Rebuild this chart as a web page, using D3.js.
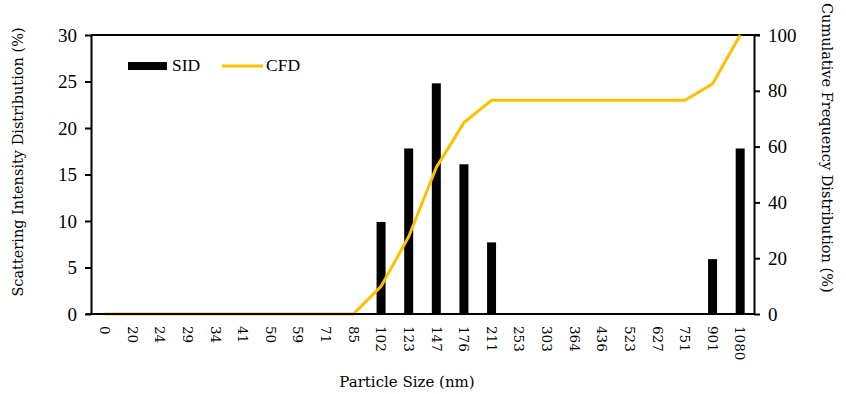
<!DOCTYPE html>
<html>
<head>
    <script src="https://d3js.org/d3.v7.min.js"></script>
    <style>
        body { margin: 0; background: #fff; }
        svg { font-family: "Liberation Serif", "DejaVu Serif", serif; }
        .domain { stroke: #000; stroke-width: 2; }
        .tick line { stroke: #000; stroke-width: 2; }
    </style>
</head>
<body>
<script>
    // particle size categories (nm)
    var sizes = ["0", "20", "24", "29", "34", "41", "50", "59", "71", "85", "102", "123",
        "147", "176", "211", "253", "303", "364", "436", "523", "627", "751", "901", "1080"];
    // scattering intensity distribution (%)
    var sid = [0, 0, 0, 0, 0, 0, 0, 0, 0, 0, 9.9, 17.8, 24.8, 16.1, 7.7, 0, 0, 0, 0, 0, 0, 0, 5.9, 17.8];
    // cumulative frequency distribution (%)
    var cfd = [0, 0, 0, 0, 0, 0, 0, 0, 0, 0, 9.9, 27.7, 52.5, 68.6, 76.6, 76.6, 76.6, 76.6, 76.6, 76.6, 76.6, 76.6, 82.5, 100];
    var leftTicks = [0, 5, 10, 15, 20, 25, 30];
    var rightTicks = [0, 20, 40, 60, 80, 100];

    var margin = { top: 35, right: 92, bottom: 80, left: 91 },
        W = 846, H = 394,
        width = W - margin.left - margin.right,
        height = H - margin.top - margin.bottom;

    var svg = d3.select("body").append("svg")
        .attr("width", W)
        .attr("height", H);

    var g = svg.append("g")
        .attr("transform", "translate(" + margin.left + "," + margin.top + ")");

    var x = d3.scaleBand().domain(sizes).range([0, width]);
    var yL = d3.scaleLinear().domain([0, 30]).range([height, 0]);
    var yR = d3.scaleLinear().domain([0, 100]).range([height, 0]);

    // top frame line
    g.append("line")
        .attr("x1", 0).attr("x2", width + 6)
        .attr("y1", 0).attr("y2", 0)
        .attr("stroke", "#000").attr("stroke-width", 2);

    // bars
    g.selectAll(".bar")
        .data(sizes)
        .enter()
        .append("rect")
        .attr("class", "bar")
        .attr("x", function (d) { return x(d) + x.bandwidth() / 2 - 4.5; })
        .attr("width", 9)
        .attr("y", function (d, i) { return yL(sid[i]); })
        .attr("height", function (d, i) { return height - yL(sid[i]); })
        .attr("fill", "#000");

    // line
    var line = d3.line()
        .x(function (d, i) { return x(sizes[i]) + x.bandwidth() / 2; })
        .y(function (d) { return yR(d); });

    g.append("path")
        .datum(cfd)
        .attr("d", line)
        .attr("fill", "none")
        .attr("stroke", "#FFC000")
        .attr("stroke-width", 3);

    // left axis
    var aL = g.append("g")
        .attr("font-family", null)
        .call(d3.axisLeft(yL).tickValues(leftTicks).tickSize(6).tickSizeOuter(0).tickPadding(8));
    aL.attr("font-family", "Liberation Serif, serif");
    aL.selectAll("text").style("font-size", "19px").attr("fill", "#000");

    // right axis
    var aR = g.append("g")
        .attr("transform", "translate(" + width + ",0)")
        .call(d3.axisRight(yR).tickValues(rightTicks).tickSize(6).tickSizeOuter(0).tickPadding(8));
    aR.attr("font-family", "Liberation Serif, serif");
    aR.selectAll("text").style("font-size", "19px").attr("fill", "#000");

    // bottom axis
    var aB = g.append("g")
        .attr("transform", "translate(0," + height + ")")
        .call(d3.axisBottom(x).tickSize(0).tickSizeOuter(0));
    aB.attr("font-family", "DejaVu Serif, serif");
    aB.select(".domain").attr("d", "M-5,0H" + width);
    aB.selectAll("text")
        .style("font-size", "13.5px")
        .attr("fill", "#000")
        .attr("text-anchor", "start")
        .attr("transform", "translate(0,12) rotate(90)")
        .attr("x", 0).attr("y", 0).attr("dy", "0.35em");

    // axis titles
    svg.append("text")
        .attr("transform", "translate(23,162) rotate(-90)")
        .attr("text-anchor", "middle")
        .style("font-family", "DejaVu Serif, serif")
        .style("font-size", "14.5px")
        .text("Scattering Intensity Distribution (%)");

    svg.append("text")
        .attr("transform", "translate(822,3) rotate(90)")
        .attr("text-anchor", "start")
        .style("font-family", "DejaVu Serif, serif")
        .style("font-size", "14.5px")
        .text("Cumulative Frequency Distribution (%)");

    svg.append("text")
        .attr("x", 407).attr("y", 387)
        .attr("text-anchor", "middle")
        .style("font-family", "DejaVu Serif, serif")
        .style("font-size", "15px")
        .text("Particle Size (nm)");

    // legend
    var leg = svg.append("g");
    leg.append("rect")
        .attr("x", 128).attr("y", 62)
        .attr("width", 39).attr("height", 8)
        .attr("fill", "#000");
    leg.append("text")
        .attr("x", 172).attr("y", 71)
        .style("font-size", "17.5px")
        .text("SID");
    leg.append("line")
        .attr("x1", 222).attr("x2", 263)
        .attr("y1", 66).attr("y2", 66)
        .attr("stroke", "#FFC000").attr("stroke-width", 3);
    leg.append("text")
        .attr("x", 266).attr("y", 71)
        .style("font-size", "17.5px")
        .text("CFD");
</script>
</body>
</html>
